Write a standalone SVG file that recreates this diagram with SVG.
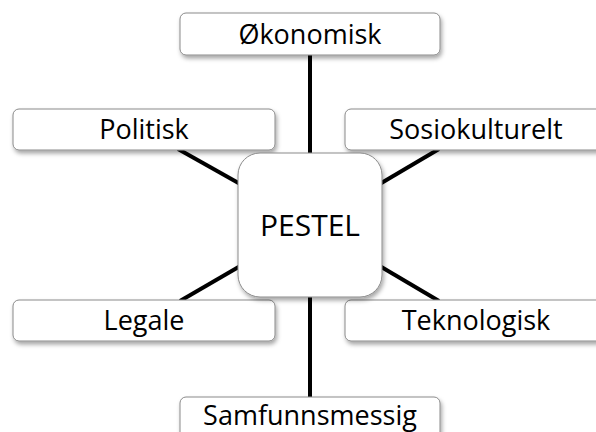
<svg xmlns="http://www.w3.org/2000/svg" width="596" height="432" viewBox="0 0 596 432">
  <defs>
    <filter id="shadow" x="-10%" y="-20%" width="130%" height="160%">
      <feDropShadow dx="1.5" dy="3" stdDeviation="2" flood-color="#000" flood-opacity="0.35"/>
    </filter>
  </defs>
  <style>
    .box { fill: #ffffff; stroke: #8a8a8a; stroke-width: 1; filter: url(#shadow); }
    .lbl { font-family: "Open Sans", "Liberation Sans", sans-serif; font-size: 27px; fill: #000; text-anchor: middle; }
    .big { font-size: 30px; }
    .conn { stroke: #000; stroke-width: 4; fill: none; }
  </style>
  <rect width="596" height="432" fill="#ffffff"/>
  <g id="connectors">
    <line class="conn" x1="310" y1="50" x2="310" y2="402"/>
    <line class="conn" x1="178" y1="149" x2="242" y2="185"/>
    <line class="conn" x1="439" y1="149" x2="378" y2="185"/>
    <line class="conn" x1="180" y1="301" x2="242" y2="265"/>
    <line class="conn" x1="439" y1="301" x2="378" y2="265"/>
  </g>
  <g id="node-okonomisk">
    <rect class="box" x="180" y="13" width="260" height="42" rx="6"/>
    <text class="lbl" x="310" y="44">Økonomisk</text>
  </g>
  <g id="node-politisk">
    <rect class="box" x="13" y="109" width="262" height="41" rx="6"/>
    <text class="lbl" x="144" y="139">Politisk</text>
  </g>
  <g id="node-sosiokulturelt">
    <rect class="box" x="345" y="109" width="262" height="41" rx="6"/>
    <text class="lbl" x="476" y="139">Sosiokulturelt</text>
  </g>
  <g id="node-legale">
    <rect class="box" x="13" y="300" width="262" height="41" rx="6"/>
    <text class="lbl" x="144" y="330">Legale</text>
  </g>
  <g id="node-teknologisk">
    <rect class="box" x="345" y="300" width="262" height="41" rx="6"/>
    <text class="lbl" x="476" y="330">Teknologisk</text>
  </g>
  <g id="node-samfunnsmessig">
    <rect class="box" x="180" y="397" width="260" height="42" rx="6"/>
    <text class="lbl" x="310" y="425">Samfunnsmessig</text>
  </g>
  <g id="node-pestel">
    <rect class="box" x="238" y="153" width="144" height="144" rx="22"/>
    <text class="lbl big" x="310" y="236">PESTEL</text>
  </g>
</svg>
